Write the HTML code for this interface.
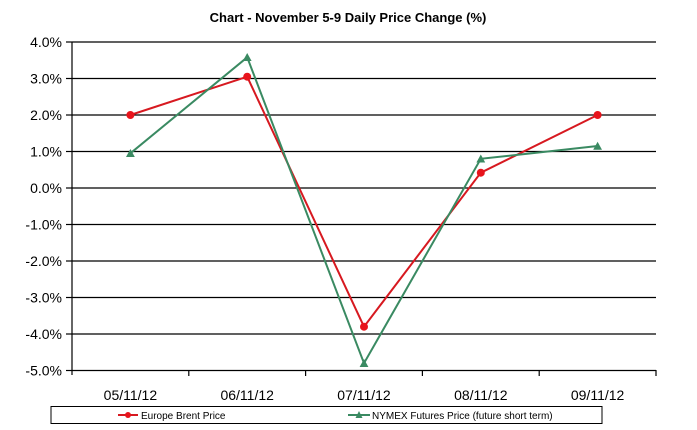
<!DOCTYPE html>
<html><head><style>body{margin:0;background:#fff}svg{display:block}text{font-family:"Liberation Sans",Arial,sans-serif}</style></head><body>
<svg width="697" height="430" xmlns="http://www.w3.org/2000/svg">
<text x="348" y="22" font-size="13" font-weight="bold" text-anchor="middle">Chart - November 5-9 Daily Price Change (%)</text>
<g stroke="#000" stroke-width="1.2">
<line x1="72" y1="42" x2="656" y2="42"/><line x1="72" y1="78.5" x2="656" y2="78.5"/><line x1="72" y1="115" x2="656" y2="115"/><line x1="72" y1="151.5" x2="656" y2="151.5"/><line x1="72" y1="188" x2="656" y2="188"/><line x1="72" y1="224.5" x2="656" y2="224.5"/><line x1="72" y1="261" x2="656" y2="261"/><line x1="72" y1="297.5" x2="656" y2="297.5"/><line x1="72" y1="334" x2="656" y2="334"/><line x1="72" y1="370.5" x2="656" y2="370.5"/>
<line x1="72" y1="42" x2="72" y2="375"/>
<line x1="66" y1="42" x2="72" y2="42"/><line x1="66" y1="78.5" x2="72" y2="78.5"/><line x1="66" y1="115" x2="72" y2="115"/><line x1="66" y1="151.5" x2="72" y2="151.5"/><line x1="66" y1="188" x2="72" y2="188"/><line x1="66" y1="224.5" x2="72" y2="224.5"/><line x1="66" y1="261" x2="72" y2="261"/><line x1="66" y1="297.5" x2="72" y2="297.5"/><line x1="66" y1="334" x2="72" y2="334"/><line x1="66" y1="370.5" x2="72" y2="370.5"/>
<line x1="188.8" y1="370" x2="188.8" y2="376"/><line x1="305.6" y1="370" x2="305.6" y2="376"/><line x1="422.4" y1="370" x2="422.4" y2="376"/><line x1="539.2" y1="370" x2="539.2" y2="376"/><line x1="656" y1="370" x2="656" y2="376"/>
</g>
<g font-size="14" text-anchor="end">
<text x="62" y="47">4.0%</text><text x="62" y="83.5">3.0%</text><text x="62" y="120">2.0%</text><text x="62" y="156.5">1.0%</text><text x="62" y="193">0.0%</text><text x="62" y="229.5">-1.0%</text><text x="62" y="266">-2.0%</text><text x="62" y="302.5">-3.0%</text><text x="62" y="339">-4.0%</text><text x="62" y="375.5">-5.0%</text>
</g>
<g font-size="14" text-anchor="middle">
<text x="130.4" y="400">05/11/12</text><text x="247.2" y="400">06/11/12</text><text x="364" y="400">07/11/12</text><text x="480.8" y="400">08/11/12</text><text x="597.6" y="400">09/11/12</text>
</g>
<polyline fill="none" stroke="#d71920" stroke-width="2" points="130.4,115 247.2,76.7 364,326.7 480.8,172.7 597.6,115"/>
<g fill="#e8141c"><circle cx="130.4" cy="115" r="4"/><circle cx="247.2" cy="76.7" r="4"/><circle cx="364" cy="326.7" r="4"/><circle cx="480.8" cy="172.7" r="4"/><circle cx="597.6" cy="115" r="4"/></g>
<polyline fill="none" stroke="#3a8a62" stroke-width="2" points="130.4,153.3 247.2,57.3 364,363.2 480.8,158.8 597.6,146"/>
<g fill="#3a8a62">
<polygon points="130.4,149 126,157 134.8,157"/><polygon points="247.2,53 242.8,61 251.6,61"/><polygon points="364,359 359.6,367 368.4,367"/><polygon points="480.8,154.5 476.4,162.5 485.2,162.5"/><polygon points="597.6,141.7 593.2,149.7 602,149.7"/>
</g>
<rect x="51" y="406.5" width="551" height="17" fill="#fff" stroke="#000" stroke-width="1"/>
<line x1="118" y1="415" x2="138" y2="415" stroke="#d71920" stroke-width="2"/><circle cx="128" cy="415" r="3" fill="#e8141c"/>
<text x="141" y="419" font-size="10">Europe Brent Price</text>
<line x1="348" y1="415" x2="370" y2="415" stroke="#3a8a62" stroke-width="2"/><polygon points="359,411 355.5,418 362.5,418" fill="#3a8a62"/>
<text x="372" y="419" font-size="10">NYMEX Futures Price (future short term)</text>
</svg>
</body></html>
